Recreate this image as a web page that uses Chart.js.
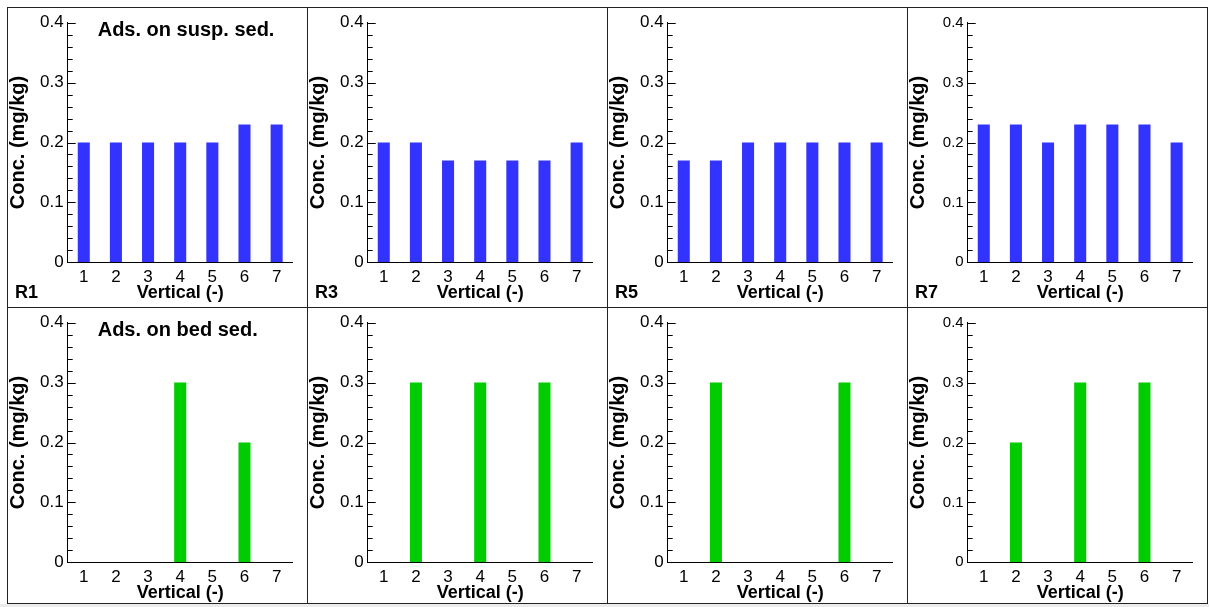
<!DOCTYPE html>
<html>
<head>
<meta charset="utf-8">
<script src="https://cdn.jsdelivr.net/npm/chart.js@4.4.1/dist/chart.umd.min.js"></script>
<style>
  html, body { margin: 0; padding: 0; background: #fff; }
  #page { position: relative; width: 1209px; height: 607px; overflow: hidden; }
  .frame { position: absolute; border: 1px solid #222; box-sizing: border-box; }
  .vline { position: absolute; width: 1px; background: #222; }
  .hline { position: absolute; height: 1px; background: #222; }
  canvas { position: absolute; }
  #shade { position: absolute; left: 0; top: 604px; width: 1209px; height: 3px; background: #ececec; }
</style>
</head>
<body>
<div id="page">
  <div class="frame" style="left:7px; top:7px; width:1201px; height:597px;"></div>
  <div class="vline" style="left:307px; top:7px; height:597px;"></div>
  <div class="vline" style="left:607px; top:7px; height:597px;"></div>
  <div class="vline" style="left:907px; top:7px; height:597px;"></div>
  <div class="hline" style="left:7px; top:307px; width:1201px;"></div>
  <div id="shade"></div>
</div>
<script>
// categories and values
const verticals = ["1", "2", "3", "4", "5", "6", "7"];
const runs = ["R1", "R3", "R5", "R7"];
const yTicks = [0, 0.1, 0.2, 0.3, 0.4];
const minorStep = 0.02;

// adsorbed on suspended sediment
const suspR1 = [0.2, 0.2, 0.2, 0.2, 0.2, 0.23, 0.23];
const suspR3 = [0.2, 0.2, 0.17, 0.17, 0.17, 0.17, 0.2];
const suspR5 = [0.17, 0.17, 0.2, 0.2, 0.2, 0.2, 0.2];
const suspR7 = [0.23, 0.23, 0.2, 0.23, 0.23, 0.23, 0.2];

// adsorbed on bed sediment
const bedR1 = [0, 0, 0, 0.3, 0, 0.2, 0];
const bedR3 = [0, 0.3, 0, 0.3, 0, 0.3, 0];
const bedR5 = [0, 0.3, 0, 0, 0, 0.3, 0];
const bedR7 = [0, 0.2, 0, 0.3, 0, 0.3, 0];

const suspSeries = [suspR1, suspR3, suspR5, suspR7];
const bedSeries = [bedR1, bedR3, bedR5, bedR7];

const FONT = "'Liberation Sans', Arial, Helvetica, sans-serif";
const BLUE = "#3333ff";
const GREEN = "#00cc00";

// ticks on the inside of the y axis, long at 0.1 steps, short at 0.02
const innerTicks = {
    id: "innerTicks",
    afterDatasetsDraw(chart) {
        const ys = chart.scales.y;
        const ctx = chart.ctx;
        const x0 = chart.chartArea.left;
        const n = Math.round((yTicks[yTicks.length - 1] - yTicks[0]) / minorStep);
        ctx.save();
        ctx.strokeStyle = "#000";
        ctx.lineWidth = 1;
        for (let i = 0; i <= n; i++) {
            const py = Math.round(ys.getPixelForValue(yTicks[0] + i * minorStep)) + 0.5;
            const len = i % 5 === 0 ? 8 : 5;
            ctx.beginPath();
            ctx.moveTo(x0, py);
            ctx.lineTo(x0 + len, py);
            ctx.stroke();
        }
        ctx.restore();
    }
};

// panel captions: series name in the plot, run name in the corner
const captions = {
    id: "captions",
    afterDraw(chart, args, opts) {
        const ctx = chart.ctx;
        ctx.save();
        ctx.fillStyle = "#000";
        ctx.textBaseline = "middle";
        ctx.textAlign = "left";
        if (opts.title) {
            ctx.font = "bold 20px " + FONT;
            ctx.fillText(opts.title, chart.chartArea.left + 30, chart.chartArea.top + 8);
        }
        if (opts.run) {
            ctx.font = "bold 18px " + FONT;
            ctx.fillText(opts.run, 8, 286);
        }
        ctx.restore();
    }
};

function makePanel(col, row, values, color, title, run) {
    const canvas = document.createElement("canvas");
    canvas.width = 300;
    canvas.height = 300;
    canvas.style.left = (7 + col * 300) + "px";
    canvas.style.top = (7 + row * 300) + "px";
    document.getElementById("page").appendChild(canvas);

    const yFont = col === 3 ? 15 : 17;

    new Chart(canvas.getContext("2d"), {
        type: "bar",
        data: {
            labels: verticals,
            datasets: [{
                data: values,
                backgroundColor: color,
                borderWidth: 0,
                categoryPercentage: 1,
                barPercentage: 0.375
            }]
        },
        options: {
            responsive: false,
            animation: false,
            layout: { padding: { left: 0, right: 14.3, top: 15.7, bottom: 0 } },
            plugins: {
                legend: { display: false },
                tooltip: { enabled: false },
                captions: { title: title, run: run }
            },
            scales: {
                x: {
                    grid: { display: false, drawTicks: false },
                    border: { display: true, color: "#000", width: 1 },
                    ticks: { color: "#000", padding: 5, font: { family: FONT, size: 17 } },
                    title: {
                        display: true,
                        text: "Vertical (-)",
                        color: "#000",
                        padding: { top: 0, bottom: 3 },
                        font: { family: FONT, size: 18, weight: "bold" }
                    },
                    afterFit(s) { s.height = 44.7; }
                },
                y: {
                    min: yTicks[0],
                    max: yTicks[yTicks.length - 1],
                    afterBuildTicks(s) { s.ticks = yTicks.map(v => ({ value: v })); },
                    grid: { display: false, drawTicks: false },
                    border: { display: true, color: "#000", width: 1 },
                    ticks: { color: "#000", padding: 4, font: { family: FONT, size: yFont } },
                    title: {
                        display: true,
                        text: "Conc. (mg/kg)",
                        color: "#000",
                        padding: 0,
                        font: { family: FONT, size: 20, weight: "bold", lineHeight: 1.1 }
                    },
                    afterFit(s) { s.width = 60.7; }
                }
            }
        },
        plugins: [innerTicks, captions]
    });
}

runs.forEach((run, i) => {
    makePanel(i, 0, suspSeries[i], BLUE, i === 0 ? "Ads. on susp. sed." : null, run);
    makePanel(i, 1, bedSeries[i], GREEN, i === 0 ? "Ads. on bed sed." : null, null);
});
</script>
</body>
</html>
